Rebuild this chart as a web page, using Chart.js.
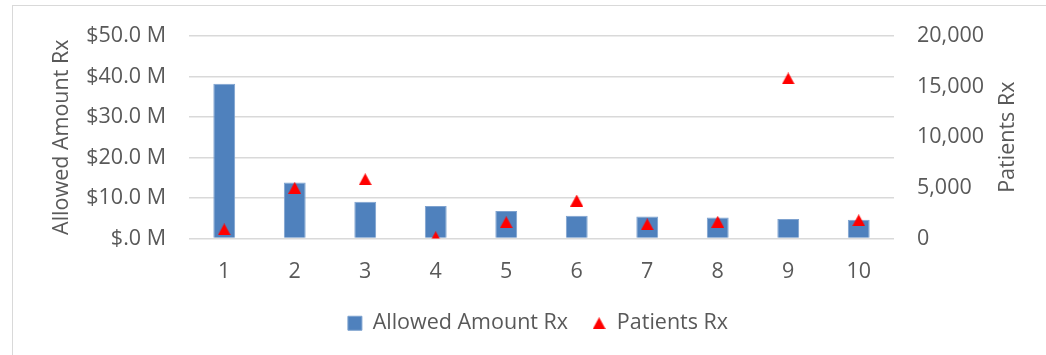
<!DOCTYPE html>
<html>
<head>
<meta charset="utf-8">
<script src="https://cdn.jsdelivr.net/npm/chart.js@4/dist/chart.umd.min.js"></script>
<style>
  html, body { margin: 0; padding: 0; background: #fff; }
  body { width: 1046px; height: 355px; position: relative; overflow: hidden; }
  #frame { position: absolute; left: 12px; top: 5px; width: 1100px; height: 400px;
           border-left: 1.5px solid #D9D9D9; border-top: 1.5px solid #D9D9D9; }
  #wrap { position: absolute; left: 30px; top: 0; width: 1016px; height: 355px; }
</style>
</head>
<body>
<div id="frame"></div>
<div id="wrap"><canvas id="chart"></canvas></div>
<script>
// Rank categories
const categories = ['1', '2', '3', '4', '5', '6', '7', '8', '9', '10'];
// Allowed amount per rank, in dollars
const allowedAmountRx = [38200000, 13800000, 9100000, 8000000, 6800000, 5600000, 5400000, 5200000, 4800000, 4650000];
// Patient counts per rank
const patientsRx = [900, 5000, 5850, 130, 1600, 3750, 1400, 1650, 15800, 1800];
// Axis tick values
const amountTicks = [0, 10000000, 20000000, 30000000, 40000000, 50000000];
const patientTicks = [0, 5000, 10000, 15000, 20000];

const TEXT = '#595959';
const GRID = '#D9D9D9';
const BLUE = '#4F81BD';
const RED = '#FF0000';
const FONT_SIZE = 21.5;
const FONT_FAMILY = "'Open Sans', sans-serif";

Chart.defaults.font.family = FONT_FAMILY;
Chart.defaults.font.size = FONT_SIZE;
Chart.defaults.color = TEXT;

// Solid red triangle marker, drawn centred on the point
const tri = document.createElement('canvas');
tri.width = 13; tri.height = 12;
(function () {
  const c = tri.getContext('2d');
  c.fillStyle = RED;
  c.beginPath();
  c.moveTo(6.5, 0);
  c.lineTo(13, 12);
  c.lineTo(0, 12);
  c.closePath();
  c.fill();
})();

function fmtAmount(v) {
  const m = v / 1000000;
  return m === 0 ? '$.0 M' : '$' + m.toFixed(1) + ' M';
}

// Right-hand axis title, reading bottom to top
const rightTitle = {
  id: 'rightTitle',
  afterDraw(chart) {
    const { ctx, chartArea } = chart;
    ctx.save();
    ctx.translate(978, (chartArea.top + chartArea.bottom) / 2);
    ctx.rotate(-Math.PI / 2);
    ctx.font = FONT_SIZE + 'px ' + FONT_FAMILY;
    ctx.fillStyle = TEXT;
    ctx.textAlign = 'center';
    ctx.textBaseline = 'middle';
    ctx.fillText('Patients Rx', 0, 0);
    ctx.restore();
  }
};

new Chart(document.getElementById('chart'), {
  type: 'bar',
  data: {
    labels: categories,
    datasets: [
      {
        label: 'Allowed Amount Rx',
        data: allowedAmountRx,
        yAxisID: 'y',
        backgroundColor: BLUE,
        borderColor: '#7EA2CF',
        borderWidth: 1,
        barPercentage: 0.31,
        categoryPercentage: 1,
        pointStyle: 'rect',
        order: 2
      },
      {
        type: 'line',
        label: 'Patients Rx',
        data: patientsRx,
        yAxisID: 'y1',
        showLine: false,
        pointStyle: tri,
        pointRadius: 7,
        pointHoverRadius: 7,
        backgroundColor: RED,
        borderColor: RED,
        order: 1
      }
    ]
  },
  options: {
    responsive: true,
    maintainAspectRatio: false,
    animation: false,
    events: [],
    layout: { padding: { top: 34, left: 0, right: 0, bottom: 11 } },
    plugins: {
      tooltip: { enabled: false },
      legend: {
        position: 'bottom',
        labels: {
          usePointStyle: true,
          boxWidth: 14,
          boxHeight: 14,
          padding: 24,
          color: TEXT,
          font: { size: FONT_SIZE },
          sort: (a, b) => a.datasetIndex - b.datasetIndex
        }
      }
    },
    scales: {
      x: {
        grid: { display: false, drawTicks: false },
        border: { display: false },
        ticks: { padding: 20, color: TEXT },
        afterFit(s) { s.height = 50; }
      },
      y: {
        position: 'left',
        min: 0,
        max: 50000000,
        afterBuildTicks(s) { s.ticks = amountTicks.map(v => ({ value: v })); },
        grid: { color: GRID, lineWidth: 1.5, drawTicks: false },
        border: { display: false },
        ticks: { padding: 23, color: TEXT, callback: v => fmtAmount(v) },
        title: { display: true, text: 'Allowed Amount Rx', color: TEXT, padding: { top: 19, bottom: 0 } },
        afterFit(s) { s.width = 159; }
      },
      y1: {
        position: 'right',
        min: 0,
        max: 20000,
        afterBuildTicks(s) { s.ticks = patientTicks.map(v => ({ value: v })); },
        grid: { drawOnChartArea: false, drawTicks: false },
        border: { display: false },
        ticks: { padding: 23, color: TEXT, callback: v => v.toLocaleString('en-US') },
        afterFit(s) { s.width = 152; }
      }
    }
  },
  plugins: [rightTitle]
});
</script>
</body>
</html>
